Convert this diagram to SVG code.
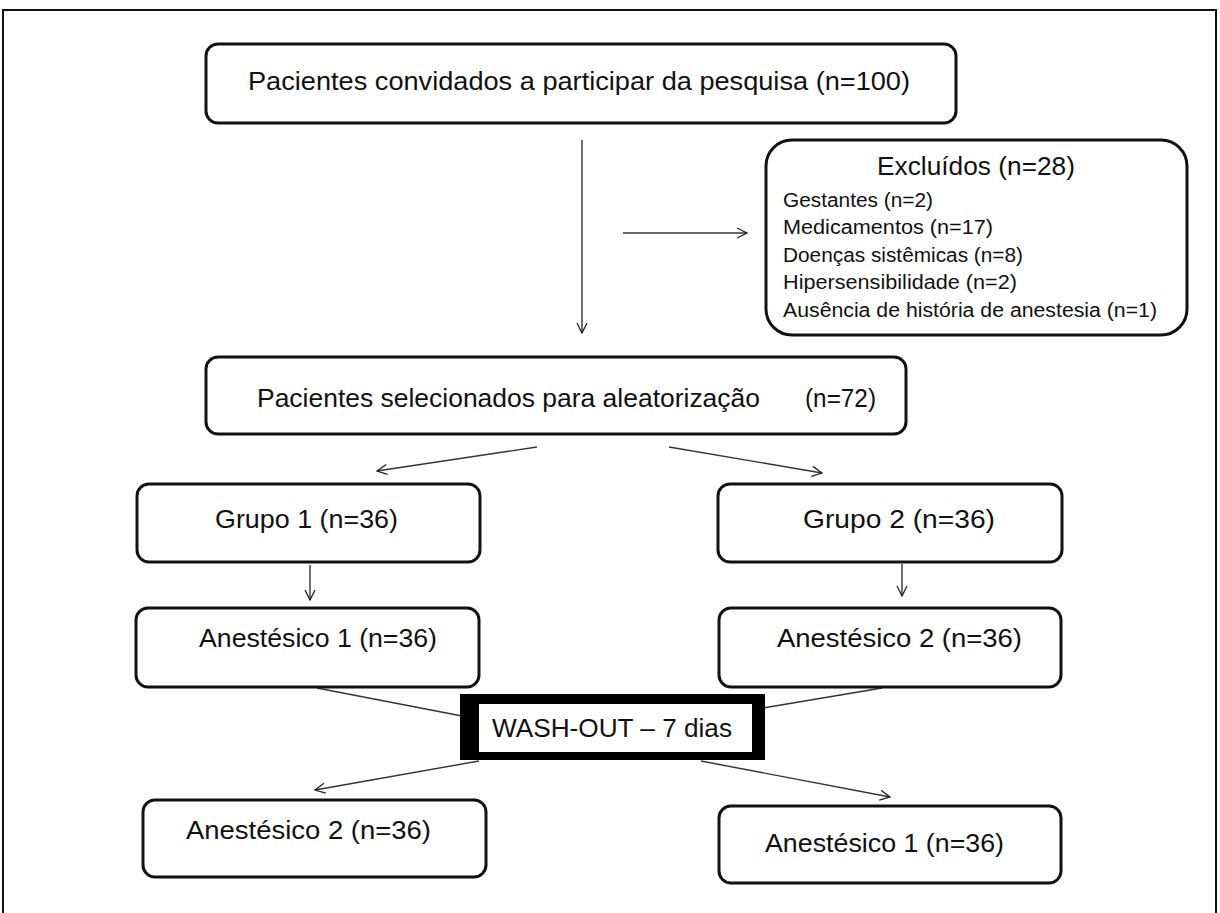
<svg xmlns="http://www.w3.org/2000/svg" width="1220" height="913" viewBox="0 0 1220 913">
<defs>
<marker id="arr" viewBox="0 0 12 12" refX="11" refY="6" markerWidth="12" markerHeight="12" markerUnits="userSpaceOnUse" orient="auto">
<path d="M1,1 L11,6 L1,11" fill="none" stroke="#222" stroke-width="1.3"/>
</marker>
<style>
.box{fill:#fff;stroke:#111;stroke-width:3}
.t{font-family:"Liberation Sans",Arial,sans-serif;fill:#111}
.big{font-size:26px}
.sm{font-size:20px}
.ln{stroke:#333;stroke-width:1.4;fill:none}
</style>
</defs>
<rect width="1220" height="913" fill="#fff"/>
<rect x="3" y="10" width="1213" height="910" fill="none" stroke="#111" stroke-width="2"/>
<g id="connectors">
<line class="ln" x1="582" y1="140" x2="582" y2="333" marker-end="url(#arr)"/>
<line class="ln" x1="623" y1="233" x2="747" y2="233" marker-end="url(#arr)"/>
<line class="ln" x1="537" y1="447" x2="377" y2="471" marker-end="url(#arr)"/>
<line class="ln" x1="669" y1="447" x2="822" y2="473" marker-end="url(#arr)"/>
<line class="ln" x1="310" y1="565" x2="310" y2="600" marker-end="url(#arr)"/>
<line class="ln" x1="902" y1="564" x2="902" y2="596" marker-end="url(#arr)"/>
<line class="ln" x1="317" y1="688" x2="462" y2="716"/>
<line class="ln" x1="882" y1="688" x2="763" y2="708"/>
<line class="ln" x1="479" y1="761" x2="315" y2="790" marker-end="url(#arr)"/>
<line class="ln" x1="701" y1="761" x2="890" y2="797" marker-end="url(#arr)"/>
</g>
<g id="n_convidados">
<rect class="box" x="206" y="44" width="750" height="79" rx="12"/>
<text class="t big" x="248" y="90" textLength="662" lengthAdjust="spacingAndGlyphs">Pacientes convidados a participar da pesquisa (n=100)</text>
</g>
<g id="n_excluidos">
<rect class="box" x="766" y="140" width="421" height="195" rx="26"/>
<text class="t big" x="877" y="175" textLength="198" lengthAdjust="spacingAndGlyphs">Excluídos (n=28)</text>
<text class="t sm" x="783" y="207" textLength="150" lengthAdjust="spacingAndGlyphs">Gestantes (n=2)</text>
<text class="t sm" x="783" y="234" textLength="210" lengthAdjust="spacingAndGlyphs">Medicamentos (n=17)</text>
<text class="t sm" x="783" y="262" textLength="240" lengthAdjust="spacingAndGlyphs">Doenças sistêmicas (n=8)</text>
<text class="t sm" x="783" y="289" textLength="234" lengthAdjust="spacingAndGlyphs">Hipersensibilidade (n=2)</text>
<text class="t sm" x="783" y="317" textLength="374" lengthAdjust="spacingAndGlyphs">Ausência de história de anestesia (n=1)</text>
</g>
<g id="n_selecionados">
<rect class="box" x="206" y="357" width="700" height="77" rx="12"/>
<text class="t big" x="257" y="407" textLength="503" lengthAdjust="spacingAndGlyphs">Pacientes selecionados para aleatorização</text>
<text class="t big" x="805" y="407" textLength="71" lengthAdjust="spacingAndGlyphs">(n=72)</text>
</g>
<g id="n_grupo1">
<rect class="box" x="137" y="484" width="343" height="78" rx="12"/>
<text class="t big" x="215" y="528" textLength="183" lengthAdjust="spacingAndGlyphs">Grupo 1 (n=36)</text>
</g>
<g id="n_grupo2">
<rect class="box" x="718" y="484" width="344" height="78" rx="12"/>
<text class="t big" x="803" y="528" textLength="192" lengthAdjust="spacingAndGlyphs">Grupo 2  (n=36)</text>
</g>
<g id="n_anest1a">
<rect class="box" x="136" y="608" width="343" height="79" rx="12"/>
<text class="t big" x="199" y="647" textLength="238" lengthAdjust="spacingAndGlyphs">Anestésico 1 (n=36)</text>
</g>
<g id="n_anest2a">
<rect class="box" x="719" y="608" width="342" height="79" rx="12"/>
<text class="t big" x="777" y="647" textLength="245" lengthAdjust="spacingAndGlyphs">Anestésico 2  (n=36)</text>
</g>
<g id="n_washout">
<rect x="460" y="694" width="305" height="66" fill="#000"/>
<rect x="479" y="704" width="273" height="48" fill="#fff"/>
<text class="t big" x="492" y="737" textLength="240" lengthAdjust="spacingAndGlyphs">WASH-OUT – 7 dias</text>
</g>
<g id="n_anest2b">
<rect class="box" x="143" y="800" width="343" height="77" rx="12"/>
<text class="t big" x="186" y="839" textLength="245" lengthAdjust="spacingAndGlyphs">Anestésico 2  (n=36)</text>
</g>
<g id="n_anest1b">
<rect class="box" x="719" y="806" width="342" height="77" rx="12"/>
<text class="t big" x="765" y="852" textLength="239" lengthAdjust="spacingAndGlyphs">Anestésico 1 (n=36)</text>
</g>
</svg>
